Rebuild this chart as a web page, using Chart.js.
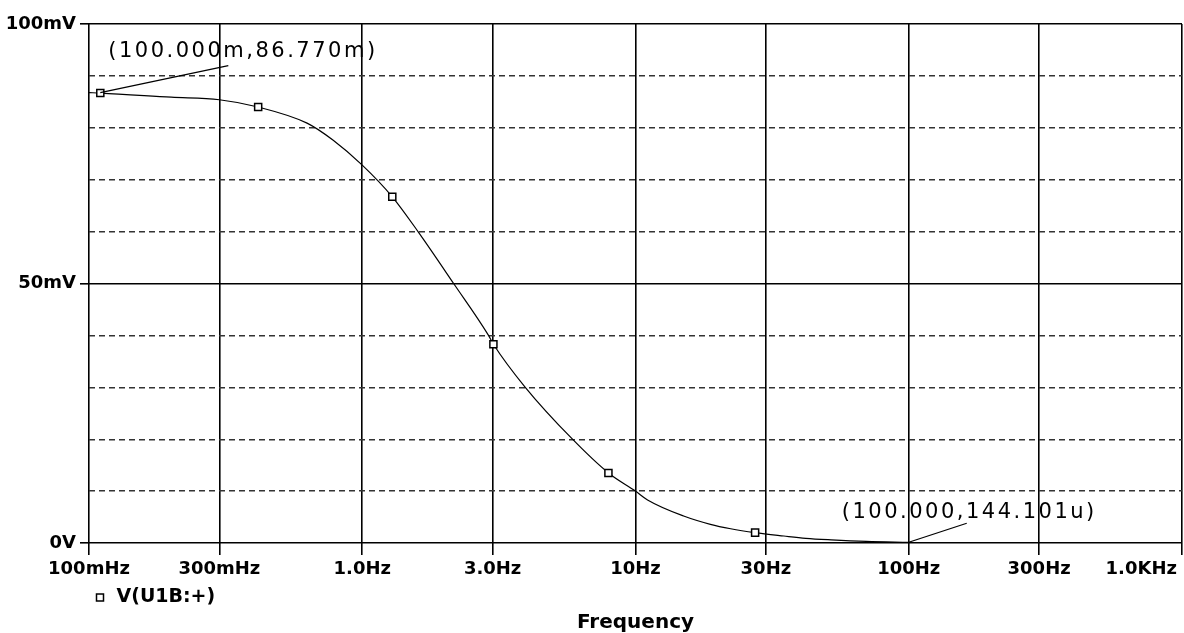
<!DOCTYPE html>
<html>
<head>
<meta charset="utf-8">
<script src="https://cdn.jsdelivr.net/npm/chart.js@4/dist/chart.umd.min.js"></script>
<style>
  html, body { margin: 0; padding: 0; background: #fff; }
  #wrap { width: 1184px; height: 633px; }
</style>
</head>
<body>
<div id="wrap"><canvas id="myChart"></canvas></div>
<script>
// frequency (Hz) and V(U1B:+) (mV)
const freqs = [0.1, 0.11, 0.2, 0.3, 0.416, 0.628, 0.783, 1.0, 1.288, 1.6, 2.16, 2.89, 3.02, 3.95, 5.88, 7.96, 10, 11.07, 15, 18.8, 22.3, 27.4, 34.9, 42, 52, 70, 100]
const volts = [86.77, 86.7, 85.9, 85.4, 84.0, 80.9, 77.6, 72.8, 66.7, 60.0, 50.0, 40.1, 38.3, 30.0, 20.0, 13.5, 10.0, 8.3, 5.2, 3.6, 2.75, 2.0, 1.35, 0.9, 0.6, 0.3, 0.144]
// which samples carry a marker
const markerFreqs = [0.11, 0.416, 1.288, 3.02, 7.96, 27.4]

const xTickValues = [0.1, 0.3, 1, 3, 10, 30, 100, 300, 1000]
const xTickLabels = ['100mHz', '300mHz', '1.0Hz', '3.0Hz', '10Hz', '30Hz', '100Hz', '300Hz', '1.0KHz']
const yLabelValues = [0, 50, 100]
const yLabelTexts = ['0V', '50mV', '100mV']

// cursor read-outs
const cursorX = [0.11, 100]
const cursorY = [86.77, 0.144]
const cursorText = ['(100.000m,86.770m)', '(100.000,144.101u)']

const points = freqs.map((f, i) => ({ x: f, y: volts[i] }))
const radii = freqs.map(f => markerFreqs.includes(f) ? 5 : 0)

const tickFont = { family: 'DejaVu Sans', weight: 'bold', size: 18 }

const cursorPlugin = {
    id: 'cursors',
    afterDatasetsDraw(chart) {
        const ctx = chart.ctx
        const xs = chart.scales.x
        const ys = chart.scales.y
        // offsets of leader end and text, in px, per cursor
        const lead = [[128, -27], [58, -19]]
        const txt = [[8, -41], [-67, -30]]
        ctx.save()
        ctx.strokeStyle = '#000'
        ctx.fillStyle = '#000'
        ctx.lineWidth = 1.3
        ctx.font = '21px "DejaVu Sans"'
        ctx.textBaseline = 'middle'
        ctx.textAlign = 'left'
        if ('letterSpacing' in ctx) ctx.letterSpacing = '2.5px'
        for (let i = 0; i < cursorText.length; i++) {
            const px = xs.getPixelForValue(cursorX[i])
            const py = ys.getPixelForValue(cursorY[i])
            ctx.beginPath()
            ctx.moveTo(px, py)
            ctx.lineTo(px + lead[i][0], py + lead[i][1])
            ctx.stroke()
            ctx.fillText(cursorText[i], px + txt[i][0], py + txt[i][1])
        }
        ctx.restore()
    }
}

const data = {
    datasets: [{
        label: 'V(U1B:+)',
        data: points,
        borderColor: '#000',
        borderWidth: 1.2,
        backgroundColor: '#fff',
        pointStyle: 'rect',
        pointRadius: radii,
        pointBackgroundColor: '#fff',
        pointBorderColor: '#000',
        pointBorderWidth: 1.5,
        pointHoverRadius: 0,
        cubicInterpolationMode: 'monotone',
        fill: false
    }]
}

const config = {
    type: 'line',
    data: data,
    options: {
        responsive: true,
        maintainAspectRatio: false,
        animation: false,
        events: [],
        layout: { padding: { top: 24, right: 2, left: 0, bottom: 0 } },
        plugins: {
            legend: {
                position: 'bottom',
                align: 'start',
                fullSize: false,
                maxHeight: 29,
                labels: {
                    usePointStyle: true,
                    boxWidth: 14,
                    boxHeight: 7,
                    padding: 4,
                    color: '#000',
                    font: { family: 'DejaVu Sans', weight: 'bold', size: 19 }
                }
            },
            title: {
                display: true,
                position: 'bottom',
                fullSize: false,
                text: 'Frequency',
                color: '#000',
                padding: 0,
                font: { family: 'DejaVu Sans', weight: 'bold', size: 20, lineHeight: 1.0 }
            },
            tooltip: { enabled: false }
        },
        scales: {
            x: {
                type: 'logarithmic',
                min: 0.1,
                max: 1000,
                afterBuildTicks: s => { s.ticks = xTickValues.map(v => ({ value: v })) },
                afterFit: s => { s.height = 41; s.paddingLeft = 0; s.paddingRight = 0 },
                ticks: {
                    autoSkip: false,
                    maxRotation: 0,
                    padding: 4,
                    color: '#000',
                    font: tickFont,
                    // last label sits left of its tick, like the original
                    callback: (v, i) => i === xTickLabels.length - 1 ? xTickLabels[i] + ' '.repeat(13) : xTickLabels[i]
                },
                grid: {
                    color: '#000',
                    lineWidth: 1.6,
                    tickLength: 12,
                    tickColor: '#000',
                    tickWidth: 1.6
                },
                border: { display: false }
            },
            y: {
                min: 0,
                max: 100,
                afterFit: s => { s.width = 89; s.paddingTop = 0 },
                ticks: {
                    stepSize: 10,
                    padding: 4,
                    color: '#000',
                    font: tickFont,
                    callback: v => {
                        const k = yLabelValues.indexOf(v)
                        return k >= 0 ? yLabelTexts[k] : ''
                    }
                },
                grid: {
                    color: c => yLabelValues.includes(c.tick && c.tick.value) ? '#000' : '#333',
                    lineWidth: c => yLabelValues.includes(c.tick && c.tick.value) ? 1.6 : 1.4,
                    tickLength: 9,
                    tickWidth: 1.6,
                    tickColor: c => yLabelValues.includes(c.tick && c.tick.value) ? '#000' : 'rgba(0,0,0,0)'
                },
                border: {
                    display: false,
                    dash: c => (c.tick && !yLabelValues.includes(c.tick.value)) ? [6, 4] : []
                }
            }
        }
    },
    plugins: [cursorPlugin]
}

const ctx = document.getElementById('myChart').getContext('2d')
new Chart(ctx, config)
</script>
</body>
</html>
